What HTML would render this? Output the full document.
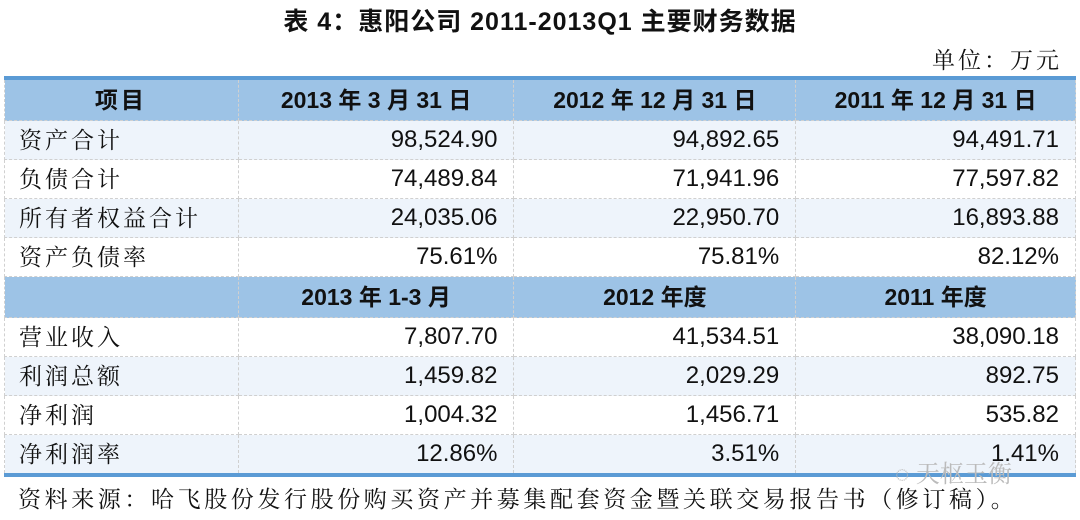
<!DOCTYPE html>
<html><head><meta charset="utf-8"><style>
body{margin:0;width:1080px;height:520px;background:#fff;font-family:"Liberation Sans","Noto Serif CJK SC",serif;color:#111;position:relative;overflow:hidden}
.title{position:absolute;top:2px;left:0;width:1080px;text-align:center;font-size:25px;font-weight:bold;letter-spacing:1px;font-family:"Liberation Sans","Noto Sans CJK SC",sans-serif}
.unit{position:absolute;top:42px;right:18px;font-size:23px;letter-spacing:3px}
table{position:absolute;left:4px;top:76px;width:1072px;border-collapse:collapse;border-top:4px solid #5b9bd5;border-bottom:4px solid #5b9bd5;font-size:23px}
td{height:38px;padding:0 15px;border:1px dashed #d0d0d0;line-height:38px}
td:first-child{padding-left:14px;letter-spacing:3px}
tr.h td{background:#9dc3e6;font-weight:bold;text-align:center;height:40px;font-family:"Liberation Sans","Noto Sans CJK SC",sans-serif;letter-spacing:0}
tr.h td:first-child{letter-spacing:3px}
tr.l td{background:#eef4fb}
td.n{text-align:right;padding-right:16px;font-size:24px;font-family:"Liberation Sans",sans-serif}
.foot{position:absolute;top:481px;left:18px;font-size:23px;letter-spacing:3.6px}
.wm{position:absolute;top:454px;left:895px;font-size:24px;color:#bbb}
</style></head><body>
<div class="title">表 4：惠阳公司 2011-2013Q1 主要财务数据</div>
<div class="unit">单位：万元</div>
<table>
<colgroup><col style="width:234px"><col style="width:276px"><col style="width:282px"><col style="width:280px"></colgroup>
<tr class="h"><td>项目</td><td>2013 年 3 月 31 日</td><td>2012 年 12 月 31 日</td><td>2011 年 12 月 31 日</td></tr>
<tr class="l"><td>资产合计</td><td class="n">98,524.90</td><td class="n">94,892.65</td><td class="n">94,491.71</td></tr>
<tr><td>负债合计</td><td class="n">74,489.84</td><td class="n">71,941.96</td><td class="n">77,597.82</td></tr>
<tr class="l"><td>所有者权益合计</td><td class="n">24,035.06</td><td class="n">22,950.70</td><td class="n">16,893.88</td></tr>
<tr><td>资产负债率</td><td class="n">75.61%</td><td class="n">75.81%</td><td class="n">82.12%</td></tr>
<tr class="h"><td></td><td>2013 年 1-3 月</td><td>2012 年度</td><td>2011 年度</td></tr>
<tr><td>营业收入</td><td class="n">7,807.70</td><td class="n">41,534.51</td><td class="n">38,090.18</td></tr>
<tr class="l"><td>利润总额</td><td class="n">1,459.82</td><td class="n">2,029.29</td><td class="n">892.75</td></tr>
<tr><td>净利润</td><td class="n">1,004.32</td><td class="n">1,456.71</td><td class="n">535.82</td></tr>
<tr class="l"><td>净利润率</td><td class="n">12.86%</td><td class="n">3.51%</td><td class="n">1.41%</td></tr>
</table>
<div class="wm">◌ 天枢玉衡</div>
<div class="foot">资料来源：哈飞股份发行股份购买资产并募集配套资金暨关联交易报告书（修订稿）。</div>
</body></html>
